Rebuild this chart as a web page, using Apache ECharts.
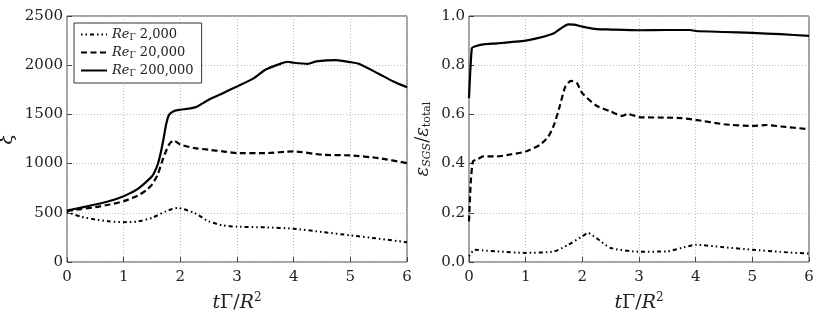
<!DOCTYPE html>
<html><head><meta charset="utf-8">
<script src="https://cdn.jsdelivr.net/npm/echarts@6/dist/echarts.min.js"></script>
<style>html,body{margin:0;padding:0;background:#fff}#c{width:822px;height:320px}</style>
</head><body><div id="c"></div>
<script>
// Left panel: xi vs t
const xA_lo = [0,0.25,0.5,0.75,1,1.25,1.5,1.75,1.95,2.25,2.5,2.75,3,3.5,4,4.5,5,5.5,6];
const xi_lo = [508,460,432,413,405,412,449,516,550,498,413,372,359,352,339,305,271,237,200];
const xA_mid = [0,0.25,0.5,0.75,1,1.25,1.4,1.5,1.6,1.7,1.8,1.88,2,2.25,2.5,2.75,3,3.5,4,4.5,5,5.5,6];
const xi_mid = [518,538,557,584,618,675,730,787,888,1058,1193,1236,1193,1158,1141,1124,1107,1107,1124,1090,1083,1056,1005];
const xA_hi = [0,0.25,0.5,0.75,1,1.25,1.5,1.6,1.65,1.7,1.75,1.8,1.9,2,2.2,2.3,2.5,2.75,3,3.3,3.5,3.75,3.9,4,4.25,4.4,4.75,5,5.15,5.5,5.75,6];
const xi_hi = [522,553,584,620,669,743,871,990,1100,1240,1400,1496,1537,1547,1564,1581,1649,1716,1784,1869,1953,2011,2035,2025,2014,2038,2051,2031,2014,1913,1838,1777];
// Right panel: eps_SGS/eps_total vs t
const xB_lo = [0,0.1,0.25,0.5,1,1.5,1.75,2,2.1,2.25,2.5,3,3.5,3.75,4,4.5,5,5.5,6];
const ep_lo = [0.023,0.05,0.047,0.043,0.037,0.043,0.07,0.104,0.118,0.097,0.057,0.042,0.043,0.057,0.07,0.06,0.05,0.041,0.034];
const xB_mid = [0,0.03,0.07,0.15,0.25,0.5,0.75,1,1.25,1.4,1.5,1.6,1.7,1.8,1.9,2,2.25,2.5,2.7,2.8,3,3.5,3.75,4,4.5,5,5.25,5.5,6];
const ep_mid = [0.165,0.32,0.409,0.418,0.429,0.429,0.438,0.449,0.476,0.51,0.557,0.632,0.713,0.736,0.729,0.686,0.635,0.612,0.594,0.602,0.589,0.587,0.585,0.578,0.56,0.553,0.557,0.551,0.54];
const xB_hi = [0,0.05,0.1,0.25,0.5,1,1.25,1.5,1.6,1.75,1.85,2,2.25,2.5,3,3.5,3.9,4,4.5,5,5.5,6];
const ep_hi = [0.666,0.869,0.876,0.885,0.889,0.9,0.912,0.93,0.946,0.966,0.965,0.957,0.947,0.945,0.942,0.943,0.943,0.939,0.935,0.931,0.926,0.919];
const legendNames = ['Re2000','Re20000','Re200000'];
const legendLabels = ['2,000','20,000','200,000'];

const pair = (xs, ys) => xs.map((x,i)=>[x,ys[i]]);
const FONT = 'DejaVu Serif';
const styles = [
  {type:[1.5,3,1.5,3,4,3], width:2},
  {type:[6,3.5], width:2.2},
  {type:'solid', width:2.2}
];
const chart = echarts.init(document.getElementById('c'));
const gridCommon = {top:16,bottom:58,show:true,borderColor:'#444',borderWidth:1,backgroundColor:'#fff',outerBoundsMode:'none',containLabel:false};
const xAxisCommon = {
  type:'value',min:0,max:6,interval:1,
  axisLine:{show:false},
  axisTick:{show:true,inside:true,length:5,lineStyle:{color:'#444'}},
  axisLabel:{fontFamily:FONT,fontSize:15,color:'#222',margin:8,formatter:v=>String(v)},
  splitLine:{show:true,lineStyle:{color:'#bbb',type:[1,2],width:1}},
  name:'{i|t}Γ/{i|R}{s|2}',nameLocation:'middle',nameGap:30,
  nameTextStyle:{fontFamily:FONT,fontSize:19,color:'#222',rich:{i:{fontFamily:FONT,fontStyle:'italic',fontSize:19,color:'#222'},s:{fontFamily:FONT,fontSize:12,color:'#222',verticalAlign:'top',padding:[0,0,10,0]}}}
};
function mk(xs, ys, idx, k){
  return {name:legendNames[k],type:'line',xAxisIndex:idx,yAxisIndex:idx,data:pair(xs,ys),
    symbol:'none',smooth:0.2,lineStyle:{color:'#000',width:styles[k].width,type:styles[k].type},itemStyle:{color:'#000'},z:3};
}
chart.setOption({
  animation:false,
  textStyle:{fontFamily:FONT},
  grid:[Object.assign({left:67,right:415},gridCommon),Object.assign({left:469,right:13},gridCommon)],
  xAxis:[Object.assign({gridIndex:0},xAxisCommon),Object.assign({gridIndex:1},xAxisCommon)],
  yAxis:[
    {gridIndex:0,type:'value',min:0,max:2500,interval:500,axisLine:{show:false},
     axisTick:{show:true,inside:true,length:5,lineStyle:{color:'#444'}},
     axisLabel:{fontFamily:FONT,fontSize:15,color:'#222',margin:4,formatter:v=>String(v)},
     splitLine:{show:true,lineStyle:{color:'#bbb',type:[1,2],width:1}},
     name:'ξ',nameLocation:'middle',nameGap:50,nameRotate:90,nameMoveOverlap:false,
     nameTextStyle:{fontFamily:FONT,fontStyle:'italic',fontSize:20,color:'#222'}},
    {gridIndex:1,type:'value',min:0,max:1,interval:0.2,axisLine:{show:false},
     axisTick:{show:true,inside:true,length:5,lineStyle:{color:'#444'}},
     axisLabel:{fontFamily:FONT,fontSize:15,color:'#222',margin:4,formatter:v=>v.toFixed(1)},
     splitLine:{show:true,lineStyle:{color:'#bbb',type:[1,2],width:1}},
     name:'{i|ε}{sub|SGS}/{i|ε}{sub2|total}',nameLocation:'middle',nameGap:36,nameRotate:90,nameMoveOverlap:false,
     nameTextStyle:{fontFamily:FONT,fontSize:18,color:'#222',rich:{
       i:{fontFamily:FONT,fontStyle:'italic',fontSize:18,color:'#222'},
       sub:{fontFamily:FONT,fontStyle:'italic',fontSize:11,color:'#222',verticalAlign:'bottom',padding:[8,0,0,0]},
       sub2:{fontFamily:FONT,fontSize:11,color:'#222',verticalAlign:'bottom',padding:[8,0,0,0]}}}}
  ],
  legend:{left:74,top:23,orient:'vertical',align:'left',itemGap:4,itemWidth:26,itemHeight:10,
    backgroundColor:'#fff',borderColor:'#333',borderWidth:1,borderRadius:0,padding:[5,8,5,6],
    itemStyle:{opacity:0},
    data:legendNames,
    formatter:n=>'{i|Re}{s|Γ} '+legendLabels[legendNames.indexOf(n)],
    textStyle:{fontFamily:FONT,fontSize:13,color:'#222',rich:{i:{fontFamily:FONT,fontStyle:'italic',fontSize:13,color:'#222'},s:{fontFamily:FONT,fontSize:9,color:'#222',verticalAlign:'bottom',padding:[6,0,0,0]}}}},
  series:[
    mk(xA_lo,xi_lo,0,0),mk(xA_mid,xi_mid,0,1),mk(xA_hi,xi_hi,0,2),
    mk(xB_lo,ep_lo,1,0),mk(xB_mid,ep_mid,1,1),mk(xB_hi,ep_hi,1,2)
  ]
});
</script></body></html>
